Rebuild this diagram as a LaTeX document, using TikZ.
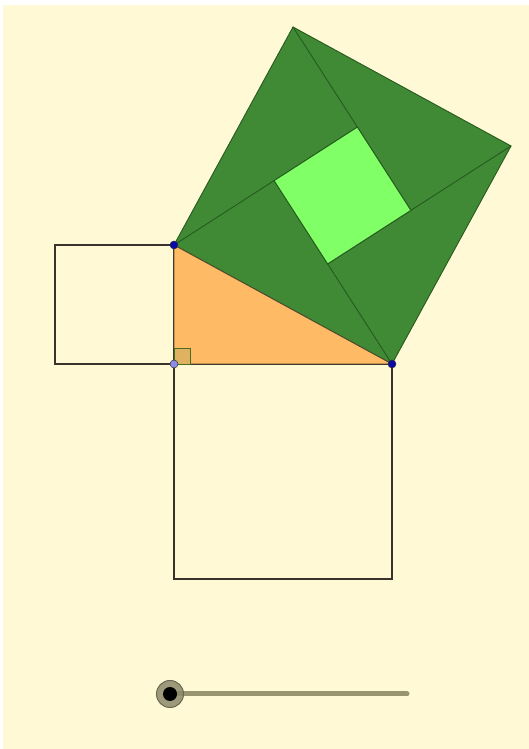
\documentclass[tikz,border=0pt]{standalone}
\usetikzlibrary{calc}

\definecolor{paper}{RGB}{255,249,214}
\definecolor{darkgreen}{RGB}{64,138,54}
\definecolor{greenline}{RGB}{38,90,30}
\definecolor{lightgreen}{RGB}{128,255,102}
\definecolor{legorange}{RGB}{255,186,102}
\definecolor{markfill}{RGB}{222,178,96}
\definecolor{markline}{RGB}{70,110,35}
\definecolor{ptblue}{RGB}{10,10,170}
\definecolor{ptlight}{RGB}{140,140,230}
\definecolor{slidergray}{RGB}{153,149,112}
\definecolor{knobgray}{RGB}{140,138,108}

\begin{document}
\begin{tikzpicture}[x=1pt,y=1pt,
    edge/.style={draw=black!80!olive,line width=1.2pt},
    dot/.style={circle,draw=black!80,line width=0.5pt,inner sep=0pt,minimum size=8pt}]

\useasboundingbox (0,0) rectangle (529,749);
\fill[white] (0,0) rectangle (529,749);
\fill[paper] (3,0) rectangle (529,744);

% right triangle, legs 119 and 218
\coordinate (A) at (174,385);
\coordinate (B) at (174,504);
\coordinate (C) at (392,385);
\pgfmathsetmacro{\ratio}{119/veclen(218,119)}
\pgfmathsetmacro{\ang}{atan(218/119)}

% square on the hypotenuse
\coordinate (T) at ($(B)!1!90:(C)$);
\coordinate (R) at ($(C)!1!-90:(B)$);

% right-angle feet of the four inner triangles
\foreach \p/\q/\n in {T/B/P1, R/T/P2, C/R/P3, B/C/P4}
    \coordinate (\n) at ($(\p)!\ratio!\ang:(\q)$);

% squares on the legs
\draw[edge] (A) rectangle ($(B)+(-119,0)$);
\draw[edge] (A) rectangle ($(C)+(0,-215)$);

\filldraw[fill=darkgreen,draw=greenline,line width=0.9pt] (B) -- (C) -- (R) -- (T) -- cycle;
\foreach \p/\q in {B/P1, T/P2, R/P3, C/P4}
    \draw[greenline,line width=0.9pt] (\p) -- (\q);
\filldraw[fill=lightgreen,draw=greenline,line width=0.9pt] (P1) -- (P2) -- (P3) -- (P4) -- cycle;

\filldraw[fill=legorange,draw=black!60!olive,line width=0.9pt] (A) -- (B) -- (C) -- cycle;
\filldraw[fill=markfill,draw=markline,line width=0.8pt] (A) rectangle ++(16,16);

\node[dot,fill=ptlight] (a) at (A) {};
\node[dot,fill=ptblue] (b) at (B) {};
\node[dot,fill=ptblue] (c) at (C) {};

% slider
\coordinate (s0) at (170,55);
\coordinate (s1) at (407,55);
\draw[slidergray,line width=5pt,line cap=round] (s0) -- (s1);
\filldraw[fill=knobgray,draw=knobgray!75!black,line width=1pt,fill opacity=0.85] (s0) circle (13.5);
\fill[black] (s0) circle (7);

\end{tikzpicture}
\end{document}
